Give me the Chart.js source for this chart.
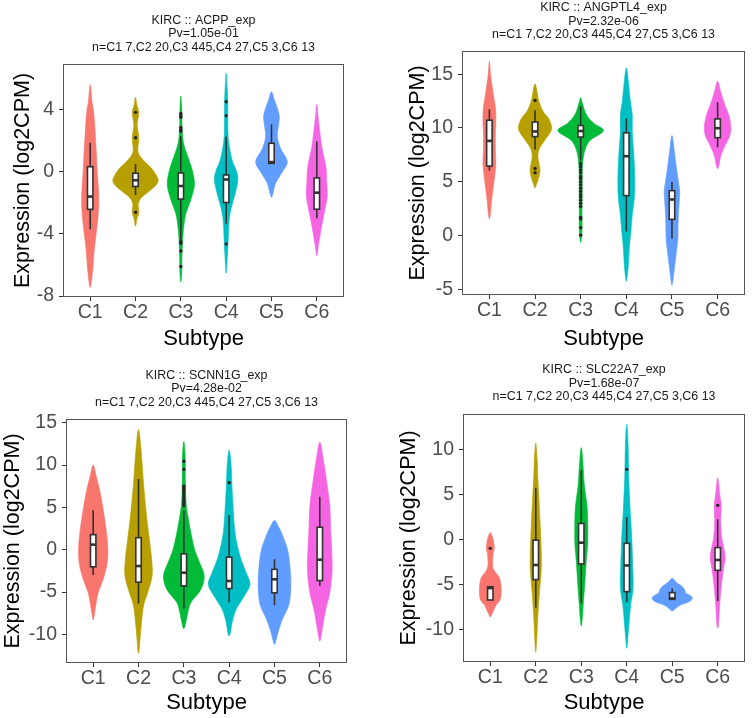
<!DOCTYPE html>
<html>
<head>
<meta charset="utf-8">
<script src="https://cdn.jsdelivr.net/npm/chart.js@4.4.1/dist/chart.umd.min.js"></script>
<style>
  body { margin: 0; background: #fff; width: 753px; height: 718px; position: relative; overflow: hidden; }
  canvas { position: absolute; }
</style>
</head>
<body>
<canvas id="pAcpp" width="376" height="355" style="left:0;top:0"></canvas>
<canvas id="pAngptl4" width="377" height="355" style="left:376px;top:0"></canvas>
<canvas id="pScnn1g" width="376" height="363" style="left:0;top:355px"></canvas>
<canvas id="pSlc22a7" width="377" height="363" style="left:376px;top:355px"></canvas>
<script>
const categories = ['C1', 'C2', 'C3', 'C4', 'C5', 'C6'];
const sampleLine = 'n=C1 7,C2 20,C3 445,C4 27,C5 3,C6 13';

// violin outlines: [expression, half width in category units], top to bottom
// boxes: [lower whisker, q1, median, q3, upper whisker]

// ---- ACPP ----
const acppTitle = ['KIRC :: ACPP_exp', 'Pv=1.05e-01', sampleLine];
const acppYTicks = [-8, -4, 0, 4];
const acppViolins = [
  [[5.6,0],[4.5,0.04],[4,0.07],[3,0.10],[2,0.12],[1,0.14],[0,0.155],[-1,0.18],[-2,0.19],[-3,0.17],[-4,0.13],[-5,0.09],[-6,0.065],[-7,0.03],[-7.45,0]],
  [[4.8,0],[4.3,0.03],[3.8,0.073],[3.0,0.037],[2.2,0.073],[1.4,0.05],[1.0,0.1],[0.6,0.22],[0.2,0.36],[-0.3,0.47],[-0.6,0.5],[-0.9,0.44],[-1.3,0.28],[-1.7,0.12],[-2.1,0.06],[-2.6,0.075],[-3.0,0.035],[-3.5,0]],
  [[4.87,0],[4.0,0.02],[3.0,0.025],[2.25,0.04],[1.6,0.08],[0.75,0.18],[0,0.26],[-0.86,0.30],[-1.8,0.22],[-2.7,0.11],[-3.5,0.066],[-4.4,0.04],[-5.5,0.025],[-6.5,0.02],[-7.1,0]],
  [[6.33,0],[5.5,0.02],[4.5,0.035],[3.65,0.035],[2.5,0.04],[1.8,0.06],[0.75,0.13],[0.1,0.22],[-0.5,0.26],[-1.4,0.2],[-2.25,0.12],[-3.1,0.066],[-4.4,0.045],[-5.5,0.025],[-6.53,0]],
  [[5.15,0],[4.6,0.066],[4.0,0.14],[3.5,0.175],[2.9,0.15],[2.25,0.13],[1.5,0.2],[0.64,0.35],[-0.1,0.22],[-0.75,0.09],[-1.3,0.04],[-1.65,0]],
  [[4.33,0],[3.5,0.03],[2.9,0.055],[1.6,0.11],[0.32,0.2],[-0.75,0.22],[-1.6,0.23],[-2.46,0.177],[-3.3,0.12],[-4.2,0.066],[-4.8,0.033],[-5.4,0]]
];
const acppBoxes = [
  [-3.7, -2.42, -1.6, 0.32, 1.87],
  [-1.5, -0.95, -0.55, -0.1, 0.5],
  [-4.4, -1.76, -0.92, -0.08, 2.28],
  [-3.34, -1.98, -0.5, -0.21, 2.25],
  [0.54, 0.54, 0.62, 1.83, 3.05],
  [-3.0, -2.41, -1.35, -0.4, 1.95]
];
const acppOutliers = [
  [],
  [3.82, 2.19, -2.61],
  [3.75, 3.6, 3.5, 2.85, 2.7, 2.6, -4.5, -4.6, -5.1, -6.1],
  [4.5, 3.6, -4.65],
  [],
  []
];

// ---- ANGPTL4 ----
const angptl4Title = ['KIRC :: ANGPTL4_exp', 'Pv=2.32e-06', sampleLine];
const angptl4YTicks = [-5, 0, 5, 10, 15];
const angptl4Violins = [
  [[16.2,0],[15,0.025],[14.3,0.045],[13,0.09],[11.8,0.135],[10.5,0.14],[9.5,0.13],[8,0.13],[6.6,0.14],[5,0.1],[3.5,0.055],[2.2,0.026],[1.55,0]],
  [[14.1,0],[13.4,0.044],[12.6,0.077],[11.55,0.175],[10.8,0.31],[9.85,0.36],[8.9,0.22],[8.0,0.088],[7.2,0.066],[6.1,0.11],[5.2,0.066],[4.8,0.033],[4.43,0]],
  [[12.8,0],[12.2,0.044],[11.2,0.13],[10.45,0.285],[9.75,0.5],[8.9,0.22],[8.15,0.11],[7.2,0.055],[6,0.035],[4,0.033],[2,0.03],[0.5,0.03],[-0.62,0]],
  [[15.57,0],[14.3,0.044],[12.5,0.088],[11.2,0.13],[9.7,0.13],[8.1,0.155],[6.6,0.175],[5.0,0.185],[3.5,0.175],[1.95,0.13],[0.4,0.1],[-1.1,0.066],[-2.7,0.044],[-3.7,0.022],[-4.24,0]],
  [[9.3,0],[8.1,0.044],[6.6,0.088],[5.05,0.14],[4.1,0.17],[2.9,0.155],[1.35,0.135],[-0.2,0.13],[-1.75,0.09],[-3,0.055],[-4.1,0.022],[-4.6,0]],
  [[14.35,0],[13.4,0.066],[12.2,0.155],[11.25,0.24],[10.15,0.29],[9.25,0.265],[8.3,0.155],[7.35,0.066],[6.6,0.033],[6.22,0]]
];
const angptl4Boxes = [
  [6.05, 6.47, 8.8, 10.72, 11.73],
  [8.0, 9.2, 9.68, 10.55, 11.65],
  [6.95, 9.16, 9.72, 10.23, 12.03],
  [0.39, 3.72, 7.38, 9.55, 10.87],
  [-0.26, 1.52, 3.36, 4.18, 4.98],
  [8.2, 9.1, 9.98, 10.84, 12.42]
];
const angptl4Outliers = [
  [],
  [12.55, 6.24, 5.85],
  [6.7, 6.4, 6.1, 5.85, 5.5, 5.3, 5.0, 4.7, 4.4, 4.1, 3.8, 3.6, 3.3, 3.0, 2.7, 1.7, 1.55, 0.75, 0.05],
  [],
  [],
  []
];

// ---- SCNN1G ----
const scnn1gTitle = ['KIRC :: SCNN1G_exp', 'Pv=4.28e-02', sampleLine];
const scnn1gYTicks = [-10, -5, 0, 5, 10, 15];
const scnn1gViolins = [
  [[10,0],[8.7,0.066],[6.75,0.155],[4.75,0.22],[2.8,0.275],[0.45,0.32],[-1.55,0.31],[-3.5,0.22],[-5.1,0.11],[-6.65,0.055],[-7.8,0.022],[-8.3,0]],
  [[14.2,0],[11.9,0.055],[7.9,0.11],[4,0.177],[1.2,0.24],[-1.1,0.29],[-3.1,0.3],[-5.1,0.2],[-6.65,0.11],[-8.6,0.066],[-10.6,0.033],[-12.25,0]],
  [[12.8,0],[11,0.03],[8,0.033],[5.5,0.05],[4,0.088],[2,0.155],[0,0.24],[-1.55,0.35],[-3.1,0.45],[-4.7,0.375],[-6.25,0.155],[-7.45,0.088],[-8.6,0.044],[-9.34,0]],
  [[11.8,0],[9.9,0.044],[7.8,0.06],[6,0.077],[2,0.13],[-0.75,0.24],[-2.7,0.375],[-4.1,0.46],[-5.5,0.33],[-7.05,0.155],[-8.6,0.066],[-9.7,0.033],[-10.2,0]],
  [[3.47,0],[2.8,0.08],[2,0.155],[0,0.29],[-1.9,0.34],[-3.5,0.36],[-5.1,0.355],[-6.65,0.31],[-8.2,0.177],[-9.8,0.077],[-10.7,0.033],[-11.2,0]],
  [[12.7,0],[10.7,0.077],[7.9,0.155],[5.2,0.22],[2.4,0.24],[-0.35,0.265],[-2.7,0.27],[-5.1,0.22],[-7.05,0.13],[-9,0.066],[-10.2,0.03],[-10.8,0]]
];
const scnn1gBoxes = [
  [-2.99, -2.02, 0.6, 1.78, 4.67],
  [-6.36, -3.84, -1.93, 1.42, 8.37],
  [-6.95, -4.27, -2.72, -0.49, 4.63],
  [-6.2, -4.59, -3.7, -0.88, 4.1],
  [-6.56, -5.1, -3.5, -2.32, -1.12],
  [-4.29, -3.64, -1.18, 2.66, 6.27]
];
const scnn1gOutliers = [
  [],
  [],
  [10.45, 9.5, 7.5, 7.3, 7.1, 6.9, 6.6, 6.3, 6.0, 5.7, 5.45, 5.2],
  [7.92],
  [],
  []
];

// ---- SLC22A7 ----
const slc22a7Title = ['KIRC :: SLC22A7_exp', 'Pv=1.68e-07', sampleLine];
const slc22a7YTicks = [-10, -5, 0, 5, 10];
const slc22a7Violins = [
  [[0.81,0],[0.3,0.05],[-0.3,0.075],[-0.9,0.088],[-1.6,0.06],[-2.4,0.05],[-3.1,0.06],[-3.7,0.13],[-4.2,0.2],[-5.1,0.235],[-6.2,0.235],[-6.8,0.2],[-7.2,0.13],[-7.9,0.066],[-8.3,0.03],[-8.56,0]],
  [[10.74,0],[9,0.03],[7,0.044],[5,0.066],[1.4,0.1],[-1.2,0.12],[-3.4,0.12],[-6,0.077],[-8.6,0.044],[-11,0.022],[-12.44,0]],
  [[10.26,0],[8.8,0.033],[6.2,0.066],[4.5,0.11],[3.2,0.135],[1.4,0.143],[-0.5,0.14],[-2.3,0.11],[-4.9,0.077],[-7.15,0.044],[-8.8,0.022],[-9.56,0]],
  [[12.85,0],[10.6,0.03],[6.9,0.044],[3.2,0.077],[0.3,0.11],[-2.7,0.13],[-5.3,0.14],[-7.15,0.088],[-9,0.055],[-11,0.022],[-12.04,0]],
  [[-4.26,0],[-4.7,0.088],[-5.1,0.2],[-5.5,0.27],[-5.9,0.3],[-6.2,0.4],[-6.45,0.44],[-6.85,0.38],[-7.3,0.155],[-7.65,0.066],[-7.89,0]],
  [[6.93,0],[5.1,0.044],[3.8,0.077],[2.1,0.066],[0.3,0.088],[-1.0,0.14],[-2.0,0.165],[-2.8,0.14],[-3.8,0.11],[-5.3,0.077],[-7.15,0.044],[-9.2,0.022],[-9.81,0]]
];
const slc22a7Boxes = [
  [-6.67, -6.67, -5.35, -5.2, -5.2],
  [-7.52, -4.4, -2.78, -0.02, 5.81],
  [-7.05, -2.66, -0.3, 1.83, 7.76],
  [-6.91, -5.74, -2.83, -0.37, 2.54],
  [-6.62, -6.6, -6.5, -5.85, -5.4],
  [-6.78, -3.37, -2.22, -0.85, 2.3]
];
const slc22a7Outliers = [
  [-0.93],
  [],
  [],
  [7.85],
  [],
  [3.85]
];

const hueColors = ['#F8766D', '#B79F00', '#00BA38', '#00BFC4', '#619CFF', '#F564E3'];
const BOX_HALF = 0.06;
const FONT = '"Liberation Sans", Arial, sans-serif';

// closed catmull-rom through pixel points
function smoothPath(ctx, pts) {
    const n = pts.length;
    ctx.moveTo(pts[0][0], pts[0][1]);
    for (let i = 0; i < n; i++) {
        const p0 = pts[(i - 1 + n) % n], p1 = pts[i], p2 = pts[(i + 1) % n], p3 = pts[(i + 2) % n];
        ctx.bezierCurveTo(
            p1[0] + (p2[0] - p0[0]) / 6, p1[1] + (p2[1] - p0[1]) / 6,
            p2[0] - (p3[0] - p1[0]) / 6, p2[1] - (p3[1] - p1[1]) / 6,
            p2[0], p2[1]
        );
    }
    ctx.closePath();
}

const violinPlugin = {
    id: 'violins',
    beforeDatasetsDraw(chart) {
        const { ctx, chartArea, scales: { x, y } } = chart;
        const o = chart.options.plugins.violins;
        ctx.save();
        ctx.beginPath();
        ctx.rect(chartArea.left, chartArea.top, chartArea.width, chartArea.height);
        ctx.clip();

        o.shapes.forEach((shape, i) => {
            const c = i + 1;
            const right = shape.map(([v, w]) => [x.getPixelForValue(c + w), y.getPixelForValue(v)]);
            const left = shape.slice(1, -1).reverse().map(([v, w]) => [x.getPixelForValue(c - w), y.getPixelForValue(v)]);
            ctx.beginPath();
            smoothPath(ctx, right.concat(left));
            ctx.fillStyle = hueColors[i];
            ctx.fill();
            ctx.strokeStyle = hueColors[i];
            ctx.lineWidth = 0.6;
            ctx.stroke();
        });

        o.boxes.forEach((b, i) => {
            const c = i + 1;
            const xm = x.getPixelForValue(c);
            const xl = x.getPixelForValue(c - BOX_HALF);
            const xr = x.getPixelForValue(c + BOX_HALF);
            const [lo, q1, med, q3, hi] = b.map(v => y.getPixelForValue(v));
            ctx.strokeStyle = '#333333';
            ctx.lineWidth = 1.6;
            ctx.beginPath();
            ctx.moveTo(xm, q3); ctx.lineTo(xm, hi);
            ctx.moveTo(xm, q1); ctx.lineTo(xm, lo);
            ctx.stroke();
            ctx.fillStyle = '#ffffff';
            ctx.fillRect(xl, q3, xr - xl, q1 - q3);
            ctx.strokeRect(xl, q3, xr - xl, q1 - q3);
            ctx.lineWidth = 2.6;
            ctx.beginPath();
            ctx.moveTo(xl, med); ctx.lineTo(xr, med);
            ctx.stroke();
        });
        ctx.restore();
    },
    afterDraw(chart) {
        const { ctx, chartArea: a } = chart;
        ctx.save();
        ctx.strokeStyle = '#555555';
        ctx.lineWidth = 1;
        ctx.strokeRect(Math.round(a.left) + 0.5, Math.round(a.top) + 0.5, Math.round(a.width) - 1, Math.round(a.height) - 1);
        ctx.restore();
    }
};

function makePanel(id, p) {
    const canvas = document.getElementById(id);
    const W = canvas.width, H = canvas.height;
    const points = p.outliers.flatMap((arr, i) => arr.map(v => ({ x: i + 1, y: v })));
    const tickStyle = { font: { family: FONT, size: 19.5 }, color: '#4D4D4D' };
    const gridStyle = { display: true, drawOnChartArea: false, drawTicks: true, tickLength: 4, color: '#333333', lineWidth: 1 };

    return new Chart(canvas, {
        type: 'scatter',
        data: {
            datasets: [{
                data: points,
                pointRadius: 1.7,
                pointBackgroundColor: '#262626',
                pointBorderWidth: 0
            }]
        },
        plugins: [violinPlugin],
        options: {
            responsive: false,
            animation: false,
            layout: { padding: { left: 0, top: 0, bottom: 0, right: W - p.area.right } },
            plugins: {
                legend: { display: false },
                tooltip: { enabled: false },
                title: {
                    display: true,
                    fullSize: false,
                    text: p.title,
                    color: '#1a1a1a',
                    font: { family: FONT, size: 12.4, weight: 'normal', lineHeight: '13.5px' },
                    padding: { top: p.titlePad[0], bottom: p.titlePad[1] }
                },
                violins: { shapes: p.violins, boxes: p.boxes }
            },
            scales: {
                x: {
                    type: 'linear',
                    min: 0.4,
                    max: 6.6,
                    afterBuildTicks: s => { s.ticks = categories.map((c, i) => ({ value: i + 1 })); },
                    afterFit: s => { s.height = H - p.area.bottom; },
                    ticks: Object.assign({ padding: 0, autoSkip: false, maxRotation: 0, callback: v => categories[v - 1] }, tickStyle),
                    grid: gridStyle,
                    border: { display: false },
                    title: {
                        display: true,
                        text: 'Subtype',
                        color: '#000000',
                        font: { family: FONT, size: 22, lineHeight: 1 },
                        padding: { top: 0, bottom: p.xTitlePad }
                    }
                },
                y: {
                    min: p.yMin,
                    max: p.yMax,
                    afterBuildTicks: s => { s.ticks = p.yTicks.map(v => ({ value: v })); },
                    afterFit: s => { s.width = p.area.left; },
                    ticks: Object.assign({ padding: 5 }, tickStyle),
                    grid: gridStyle,
                    border: { display: false },
                    title: {
                        display: true,
                        text: 'Expression (log2CPM)',
                        color: '#000000',
                        font: { family: FONT, size: 21.5, lineHeight: 1 },
                        padding: { top: p.yTitlePad, bottom: 0 }
                    }
                }
            }
        }
    });
}

makePanel('pAcpp', {
    title: acppTitle, yTicks: acppYTicks, violins: acppViolins, boxes: acppBoxes, outliers: acppOutliers,
    yMin: -8.06, yMax: 6.93, area: { left: 63, right: 344, bottom: 297 },
    titlePad: [13.75, 9.75], yTitlePad: 12.25, xTitlePad: 5
});
makePanel('pAngptl4', {
    title: angptl4Title, yTicks: angptl4YTicks, violins: angptl4Violins, boxes: angptl4Boxes, outliers: angptl4Outliers,
    yMin: -5.51, yMax: 17.15, area: { left: 86, right: 369, bottom: 295 },
    titlePad: [1, 9.5], yTitlePad: 31, xTitlePad: 5
});
makePanel('pScnn1g', {
    title: scnn1gTitle, yTicks: scnn1gYTicks, violins: scnn1gViolins, boxes: scnn1gBoxes, outliers: scnn1gOutliers,
    yMin: -13.39, yMax: 15.45, area: { left: 66, right: 347, bottom: 308 },
    titlePad: [13.75, 9.75], yTitlePad: 2.5, xTitlePad: 3.7
});
makePanel('pSlc22a7', {
    title: slc22a7Title, yTicks: slc22a7YTicks, violins: slc22a7Violins, boxes: slc22a7Boxes, outliers: slc22a7Outliers,
    yMin: -13.56, yMax: 14.0, area: { left: 87, right: 369, bottom: 307 },
    titlePad: [8.25, 10.25], yTitlePad: 22.5, xTitlePad: 3.7
});
</script>
</body>
</html>
